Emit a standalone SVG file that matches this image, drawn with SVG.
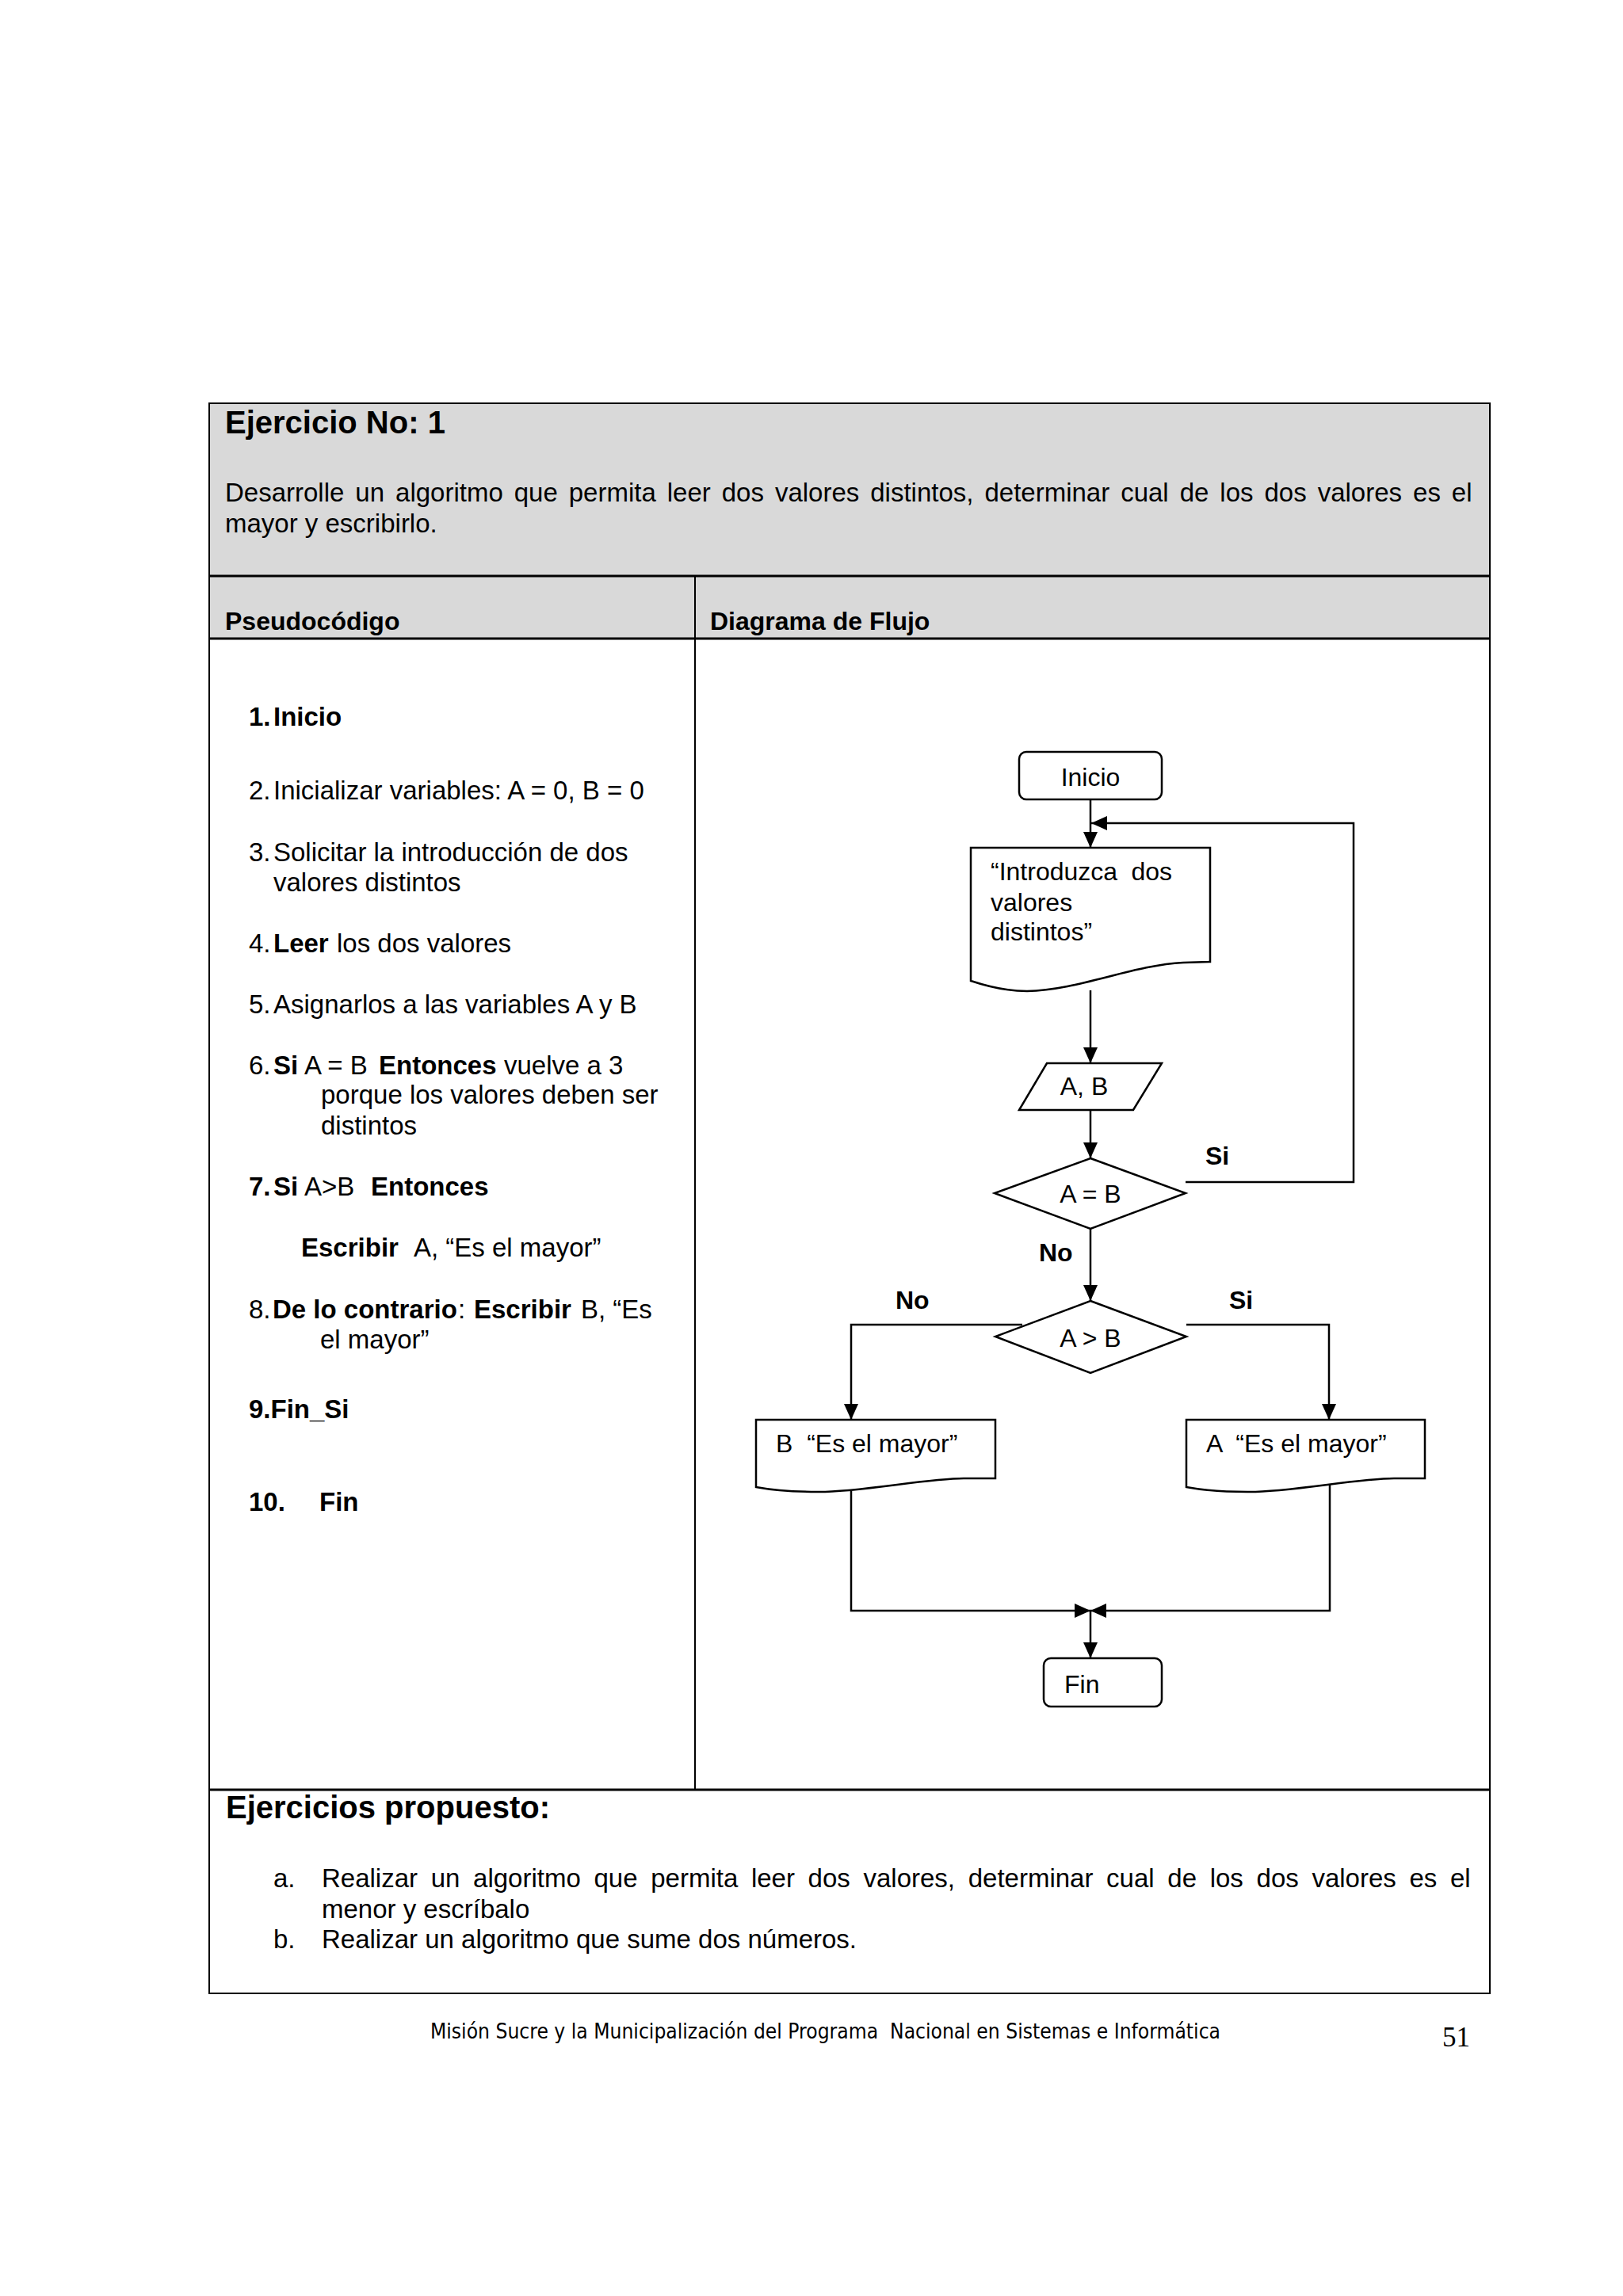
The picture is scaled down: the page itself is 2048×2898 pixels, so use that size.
<svg xmlns="http://www.w3.org/2000/svg" width="2048" height="2898" viewBox="0 0 2048 2898">
<style>
text{font-family:"Liberation Sans",Arial,sans-serif;fill:#000}
.t{font-size:33px}
.f{font-size:32px}
.b{font-weight:bold}
.h{font-size:40px;font-weight:bold}
.shape{fill:#fff;stroke:#000;stroke-width:2.5}
.con{fill:none;stroke:#000;stroke-width:2.5}
.grid{stroke:#000;fill:none}
</style>
<defs>
<marker id="ah" markerWidth="20" markerHeight="18" refX="20" refY="9" orient="auto" markerUnits="userSpaceOnUse">
<path d="M0,0 L20,9 L0,18 Z" fill="#000"/>
</marker>
</defs>
<rect width="2048" height="2898" fill="#fff"/>

<g id="table">
<rect x="264" y="509" width="1616" height="297" fill="#d9d9d9"/>
<rect x="264" y="509" width="1616" height="2007" class="grid" stroke-width="2"/>
<line x1="264" y1="727" x2="1880" y2="727" class="grid" stroke-width="3"/>
<line x1="264" y1="806" x2="1880" y2="806" class="grid" stroke-width="3"/>
<line x1="877" y1="727" x2="877" y2="2259" class="grid" stroke-width="2"/>
<line x1="264" y1="2259" x2="1880" y2="2259" class="grid" stroke-width="3"/>
</g>

<g id="header">
<text class="h" x="284" y="547">Ejercicio No: 1</text>
<text class="t" x="284" y="633" word-spacing="4.8">Desarrolle un algoritmo que permita leer dos valores distintos, determinar cual de los dos valores es el</text>
<text class="t" x="284" y="672">mayor y escribirlo.</text>
<text class="f b" x="284" y="795">Pseudocódigo</text>
<text class="f b" x="896" y="795">Diagrama de Flujo</text>
</g>

<g id="pseudocodigo">
<text class="t b" x="314" y="916">1.<tspan x="345">Inicio</tspan></text>
<text class="t" x="314" y="1009">2.<tspan x="345">Inicializar variables: A = 0, B = 0</tspan></text>
<text class="t" x="314" y="1087">3.<tspan x="345">Solicitar la introducción de dos</tspan></text>
<text class="t" x="345" y="1125">valores distintos</text>
<text class="t" x="314" y="1202">4.<tspan x="345" class="b">Leer</tspan><tspan x="425">los dos valores</tspan></text>
<text class="t" x="314" y="1279">5.<tspan x="345">Asignarlos a las variables A y B</tspan></text>
<text class="t" x="314" y="1356">6.<tspan x="345" class="b">Si</tspan><tspan x="384">A = B</tspan><tspan x="478" class="b">Entonces</tspan><tspan x="636">vuelve a 3</tspan></text>
<text class="t" x="405" y="1393">porque los valores deben ser</text>
<text class="t" x="405" y="1432">distintos</text>
<text class="t" x="314" y="1509"><tspan class="b">7.</tspan><tspan x="345" class="b">Si</tspan><tspan x="384">A&gt;B</tspan><tspan x="468" class="b">Entonces</tspan></text>
<text class="t" x="380" y="1586"><tspan class="b">Escribir</tspan><tspan x="522">A, “Es el mayor”</tspan></text>
<text class="t" x="314" y="1664">8.<tspan x="344" class="b">De lo contrario</tspan><tspan x="578">:</tspan><tspan x="598" class="b">Escribir</tspan><tspan x="733">B, “Es</tspan></text>
<text class="t" x="404" y="1702">el mayor”</text>
<text class="t b" x="314" y="1790">9.Fin_Si</text>
<text class="t b" x="314" y="1907">10.<tspan x="403">Fin</tspan></text>
</g>

<g id="connectors">
<path class="con" d="M1376,1009 V1070" marker-end="url(#ah)"/>
<path class="con" d="M1496,1492 H1708 V1039 H1377" marker-end="url(#ah)"/>
<path class="con" d="M1376,1250 V1342" marker-end="url(#ah)"/>
<path class="con" d="M1376,1401 V1462" marker-end="url(#ah)"/>
<path class="con" d="M1376,1551 V1642" marker-end="url(#ah)"/>
<path class="con" d="M1290,1672 H1074 V1792" marker-end="url(#ah)"/>
<path class="con" d="M1497,1672 H1677 V1792" marker-end="url(#ah)"/>
<path class="con" d="M1074,1882 V2033 H1376" marker-end="url(#ah)"/>
<path class="con" d="M1678,1874 V2033 H1376" marker-end="url(#ah)"/>
<path class="con" d="M1376,2033 V2093" marker-end="url(#ah)"/>
<text class="f b" x="1521" y="1470">Si</text>
<text class="f b" x="1311" y="1592">No</text>
<text class="f b" x="1130" y="1652">No</text>
<text class="f b" x="1551" y="1652">Si</text>
</g>

<g id="n-inicio">
<rect class="shape" x="1286" y="949" width="180" height="60" rx="9"/>
<text class="f" x="1376" y="992" text-anchor="middle">Inicio</text>
</g>

<g id="n-mensaje">
<path class="shape" d="M1225,1070 L1527,1070 L1527,1214 L1493,1215 C1430,1218 1360,1250 1296,1251 C1265,1251 1240,1243 1225,1238 Z"/>
<text class="f" x="1250" y="1111" word-spacing="8.5">“Introduzca dos</text>
<text class="f" x="1250" y="1150">valores</text>
<text class="f" x="1250" y="1187">distintos”</text>
</g>

<g id="n-leer">
<path class="shape" d="M1321,1342 L1466,1342 L1430,1401 L1286,1401 Z"/>
<text class="f" x="1368" y="1382" text-anchor="middle">A, B</text>
</g>

<g id="n-igual">
<path class="shape" d="M1376,1462 L1496,1506 L1376,1551 L1255,1506 Z"/>
<text class="f" x="1376" y="1518" text-anchor="middle">A = B</text>
</g>

<g id="n-mayor">
<path class="shape" d="M1376,1642 L1497,1687 L1376,1733 L1256,1687 Z"/>
<text class="f" x="1376" y="1700" text-anchor="middle">A &gt; B</text>
</g>

<g id="n-b-mayor">
<path class="shape" d="M954,1792 H1256 V1866 H1216 C1170,1866 1080,1884 1031,1883 C1000,1883 970,1880 954,1877 Z"/>
<text class="f" x="979" y="1833" xml:space="preserve">B  “Es el mayor”</text>
</g>

<g id="n-a-mayor">
<path class="shape" d="M1497,1792 H1798 V1866 H1759 C1713,1866 1623,1884 1574,1883 C1543,1883 1513,1880 1497,1877 Z"/>
<text class="f" x="1522" y="1833" xml:space="preserve">A  “Es el mayor”</text>
</g>

<g id="n-fin">
<rect class="shape" x="1317" y="2093" width="149" height="61" rx="9"/>
<text class="f" x="1343" y="2137">Fin</text>
</g>

<g id="propuestos">
<text class="h" x="285" y="2295">Ejercicios propuesto:</text>
<text class="t" x="345" y="2382">a.</text>
<text class="t" x="406" y="2382" word-spacing="7.5">Realizar un algoritmo que permita leer dos valores, determinar cual de los dos valores es el</text>
<text class="t" x="406" y="2421">menor y escríbalo</text>
<text class="t" x="345" y="2459">b.</text>
<text class="t" x="406" y="2459">Realizar un algoritmo que sume dos números.</text>
</g>

<g id="footer">
<text x="543" y="2573" style="font-family:'DejaVu Sans',sans-serif;font-size:26px" textLength="997" lengthAdjust="spacingAndGlyphs" xml:space="preserve">Misión Sucre y la Municipalización del Programa  Nacional en Sistemas e Informática</text>
<text x="1820" y="2583" style="font-family:'Liberation Serif','Times New Roman',serif;font-size:35px">51</text>
</g>
</svg>
